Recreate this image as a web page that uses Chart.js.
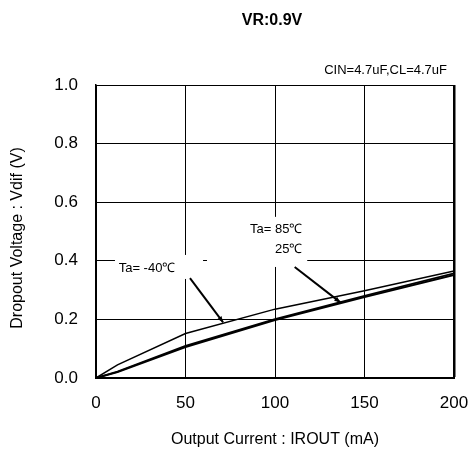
<!DOCTYPE html>
<html>
<head>
<meta charset="utf-8">
<script src="https://cdn.jsdelivr.net/npm/chart.js@4"></script>
<style>
  html, body { margin: 0; padding: 0; background: #fff; }
  #wrap { width: 468px; height: 450px; }
</style>
</head>
<body>
<div id="wrap"><canvas id="c" width="468" height="450"></canvas></div>
<script>
// output current (mA) and dropout voltage (V) per temperature
const currentMA = [0, 12, 50, 100, 150, 200];
const vdifM40 = [0, 0.045, 0.152, 0.235, 0.298, 0.365];
const vdif25 = [0, 0.02, 0.106, 0.198, 0.276, 0.352];
const vdif85 = [0, 0.022, 0.11, 0.201, 0.28, 0.357];

const xTicks = [0, 50, 100, 150, 200];
const yTicks = [0, 0.2, 0.4, 0.6, 0.8, 1.0];

// annotation anchors in data units
const noteM40 = { text: ["Ta= -40\u2103"], at: [28.5, 0.375], box: [10.6, 59.8, 0.42, 0.338], from: [52.5, 0.341], to: [71, 0.19] };
const noteHot = { text: ["Ta= 85\u2103", "25\u2103"], at: [[101.7, 0.507], [108.4, 0.44]], box: [62, 118, 0.55, 0.379], from: [111, 0.379], to: [136.5, 0.258] };

const FONT = "'Liberation Sans', Arial, sans-serif";

function arrow(ctx, x1, y1, x2, y2) {
  ctx.beginPath();
  ctx.moveTo(x1, y1);
  ctx.lineTo(x2, y2);
  ctx.stroke();
  const a = Math.atan2(y2 - y1, x2 - x1);
  const L = 6, W = 2.5;
  ctx.beginPath();
  ctx.moveTo(x2, y2);
  ctx.lineTo(x2 - L * Math.cos(a) + W * Math.sin(a), y2 - L * Math.sin(a) - W * Math.cos(a));
  ctx.lineTo(x2 - L * Math.cos(a) - W * Math.sin(a), y2 - L * Math.sin(a) + W * Math.cos(a));
  ctx.closePath();
  ctx.fill();
}

const notes = {
  id: 'notes',
  beforeDatasetsDraw(chart) {
    const { ctx, scales: { x, y } } = chart;
    ctx.save();
    ctx.fillStyle = '#fff';
    [noteM40, noteHot].forEach(n => {
      const l = x.getPixelForValue(n.box[0]), r = x.getPixelForValue(n.box[1]);
      const t = y.getPixelForValue(n.box[2]), b = y.getPixelForValue(n.box[3]);
      ctx.fillRect(l, t, r - l, b - t);
    });
    ctx.restore();
  },
  afterDatasetsDraw(chart) {
    const { ctx, scales: { x, y } } = chart;
    ctx.save();
    ctx.fillStyle = '#000';
    ctx.strokeStyle = '#000';
    ctx.lineWidth = 2;
    ctx.font = '13px ' + FONT;
    ctx.textBaseline = 'middle';

    ctx.textAlign = 'center';
    ctx.fillText(noteM40.text[0], x.getPixelForValue(noteM40.at[0]), y.getPixelForValue(noteM40.at[1]));
    arrow(ctx, x.getPixelForValue(noteM40.from[0]), y.getPixelForValue(noteM40.from[1]),
      x.getPixelForValue(noteM40.to[0]), y.getPixelForValue(noteM40.to[1]));

    ctx.textAlign = 'right';
    const rx = x.getPixelForValue(115.3);
    noteHot.text.forEach((t, i) => {
      ctx.fillText(t, rx, y.getPixelForValue(noteHot.at[i][1]));
    });
    arrow(ctx, x.getPixelForValue(noteHot.from[0]), y.getPixelForValue(noteHot.from[1]),
      x.getPixelForValue(noteHot.to[0]), y.getPixelForValue(noteHot.to[1]));
    ctx.restore();
  },
  afterDraw(chart) {
    const { ctx, chartArea } = chart;
    ctx.save();
    ctx.fillStyle = '#000';
    ctx.textBaseline = 'middle';
    ctx.textAlign = 'center';
    ctx.font = 'bold 16px ' + FONT;
    ctx.fillText('VR:0.9V', 272, 21);
    ctx.font = '13px ' + FONT;
    ctx.textAlign = 'right';
    ctx.fillText('CIN=4.7uF,CL=4.7uF', 447, 70);
    ctx.textAlign = 'center';
    ctx.font = '16px ' + FONT;
    ctx.fillText('Output Current : IROUT (mA)', (chartArea.left + chartArea.right) / 2, 440);
    ctx.translate(18, 238);
    ctx.rotate(-Math.PI / 2);
    ctx.fillText('Dropout Voltage : Vdif (V)', 0, 0);
    ctx.restore();
  }
};

function series(vals, w) {
  return {
    data: currentMA.map((c, i) => ({ x: c, y: vals[i] })),
    borderColor: '#000',
    borderWidth: w,
    pointRadius: 0,
    tension: 0,
    fill: false
  };
}

new Chart(document.getElementById('c'), {
  type: 'line',
  data: {
    datasets: [series(vdifM40, 1.5), series(vdif25, 2), series(vdif85, 1.8)]
  },
  options: {
    responsive: false,
    animation: false,
    events: [],
    layout: { padding: { top: 85, right: 14, left: 0, bottom: 0 } },
    plugins: { legend: { display: false }, tooltip: { enabled: false } },
    scales: {
      x: {
        type: 'linear',
        min: 0, max: 200,
        afterFit(s) { s.height = 72; s.paddingLeft = 0; s.paddingRight = 0; },
        afterBuildTicks(s) { s.ticks = xTicks.map(v => ({ value: v })); },
        ticks: { color: '#000', font: { family: FONT, size: 17 }, padding: 15 },
        grid: {
          color: '#000',
          drawTicks: false,
          lineWidth: c => (c.index === xTicks.length - 1 ? 2.5 : 1)
        },
        border: { color: '#000', width: 2 }
      },
      y: {
        min: 0, max: 1,
        afterFit(s) { s.width = 96; s.paddingTop = 0; s.paddingBottom = 0; },
        afterBuildTicks(s) { s.ticks = yTicks.map(v => ({ value: v })); },
        ticks: { color: '#000', font: { family: FONT, size: 17 }, padding: 18, callback: v => v.toFixed(1) },
        grid: { color: '#000', drawTicks: false, lineWidth: 1 },
        border: { color: '#000', width: 1.5 }
      }
    }
  },
  plugins: [notes]
});
</script>
</body>
</html>
